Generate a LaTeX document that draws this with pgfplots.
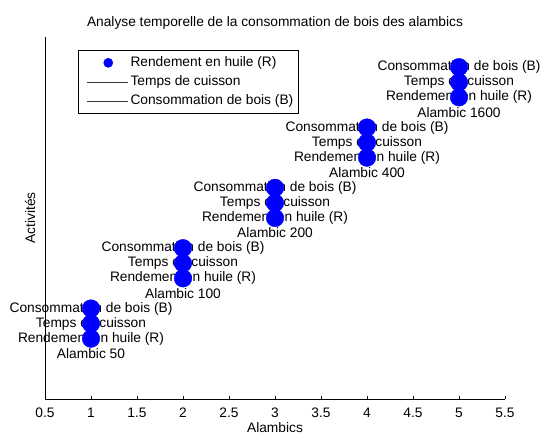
\documentclass[border=0pt]{standalone}
\usepackage{pgfplots}
\pgfplotsset{compat=1.18}
\usepackage{fontspec}
\setmainfont{Liberation Sans}
\newcommand{\ff}{\fontsize{13.8}{16.5}\selectfont}
\begin{document}
\ff
\begin{tikzpicture}
\useasboundingbox (0bp,0bp) rectangle (540bp,435bp);
\begin{axis}[
  at={(45bp,36bp)}, anchor=south west,
  width=460bp, height=362bp, scale only axis,
  xmin=0.5, xmax=5.5, ymin=0, ymax=24,
  clip=false,
  axis x line*=bottom, axis y line*=left,
  axis line style={line width=0.6pt,-},
  xtick={0.5,1,1.5,2,2.5,3,3.5,4,4.5,5,5.5},
  xticklabels={0.5,1,1.5,2,2.5,3,3.5,4,4.5,5,5.5},
  ytick=\empty,
  tick align=inside, major tick length=3bp,
  tick style={black, line width=0.6pt},
  /pgf/number format/assume math mode=true,
  xticklabel style={anchor=base, yshift=-18bp, font=\ff},
  title={Analyse temporelle de la consommation de bois des alambics},
  every axis title shift=0pt,
  title style={at={(0.5,1.039)}, anchor=center, yshift=0pt, font=\ff},
  xlabel={Alambics},
  x label style={at={(0.5,-0.080)}, anchor=center, font=\ff},
  ylabel={Activités},
  y label style={at={(-0.0326,0.5)}, anchor=center, font=\ff},
  legend style={at={(0.0717,0.964)}, anchor=north west, draw=black, line width=0.6pt,
    font=\ff, cells={anchor=west}, row sep=3bp,
    inner xsep=3bp, inner ysep=4.5bp},
  legend cell align=left,
  unbounded coords=jump,
]
\addplot[only marks, mark=*, mark size=8.8bp, blue, mark options={fill=blue, draw=blue},
  legend image code/.code={\path[draw=none,fill=none] (0bp,0bp) -- (47bp,0bp);\fill[blue] (27bp,0bp) circle (4.5bp);}]
  coordinates {(1,4) (1,5) (1,6) (2,8) (2,9) (2,10) (3,12) (3,13) (3,14)
               (4,16) (4,17) (4,18) (5,20) (5,21) (5,22)};
\addlegendentry{Rendement en huile (R)}
\addplot[black, line width=0.6pt,
  legend image code/.code={\path[draw=none] (0bp,0bp) -- (47bp,0bp);\draw[black!80, line width=0.5pt] (6bp,0bp) -- (47bp,0bp);}]
  coordinates {(1,4) (1,6) (1.5,nan) (2,8) (2,10) (2.5,nan) (3,12) (3,14) (3.5,nan)
               (4,16) (4,18) (4.5,nan) (5,20) (5,22)};
\addlegendentry{Temps de cuisson}
\addplot[black, line width=0.6pt,
  legend image code/.code={\path[draw=none] (0bp,0bp) -- (47bp,0bp);\draw[black!80, line width=0.5pt] (6bp,0bp) -- (47bp,0bp);}]
  coordinates {(1,5) (1,6) (1.5,nan) (2,9) (2,10) (2.5,nan) (3,13) (3,14) (3.5,nan)
               (4,17) (4,18) (4.5,nan) (5,21) (5,22)};
\addlegendentry{Consommation de bois (B)}
\node at (axis cs:1,6) {Consommation de bois (B)};
\node at (axis cs:1,5) {Temps de cuisson};
\node at (axis cs:1,4) {Rendement en huile (R)};
\node at (axis cs:1,3) {Alambic 50};
\node at (axis cs:2,10) {Consommation de bois (B)};
\node at (axis cs:2,9) {Temps de cuisson};
\node at (axis cs:2,8) {Rendement en huile (R)};
\node at (axis cs:2,7) {Alambic 100};
\node at (axis cs:3,14) {Consommation de bois (B)};
\node at (axis cs:3,13) {Temps de cuisson};
\node at (axis cs:3,12) {Rendement en huile (R)};
\node at (axis cs:3,11) {Alambic 200};
\node at (axis cs:4,18) {Consommation de bois (B)};
\node at (axis cs:4,17) {Temps de cuisson};
\node at (axis cs:4,16) {Rendement en huile (R)};
\node at (axis cs:4,15) {Alambic 400};
\node at (axis cs:5,22) {Consommation de bois (B)};
\node at (axis cs:5,21) {Temps de cuisson};
\node at (axis cs:5,20) {Rendement en huile (R)};
\node at (axis cs:5,19) {Alambic 1600};
\end{axis}
\end{tikzpicture}
\end{document}
